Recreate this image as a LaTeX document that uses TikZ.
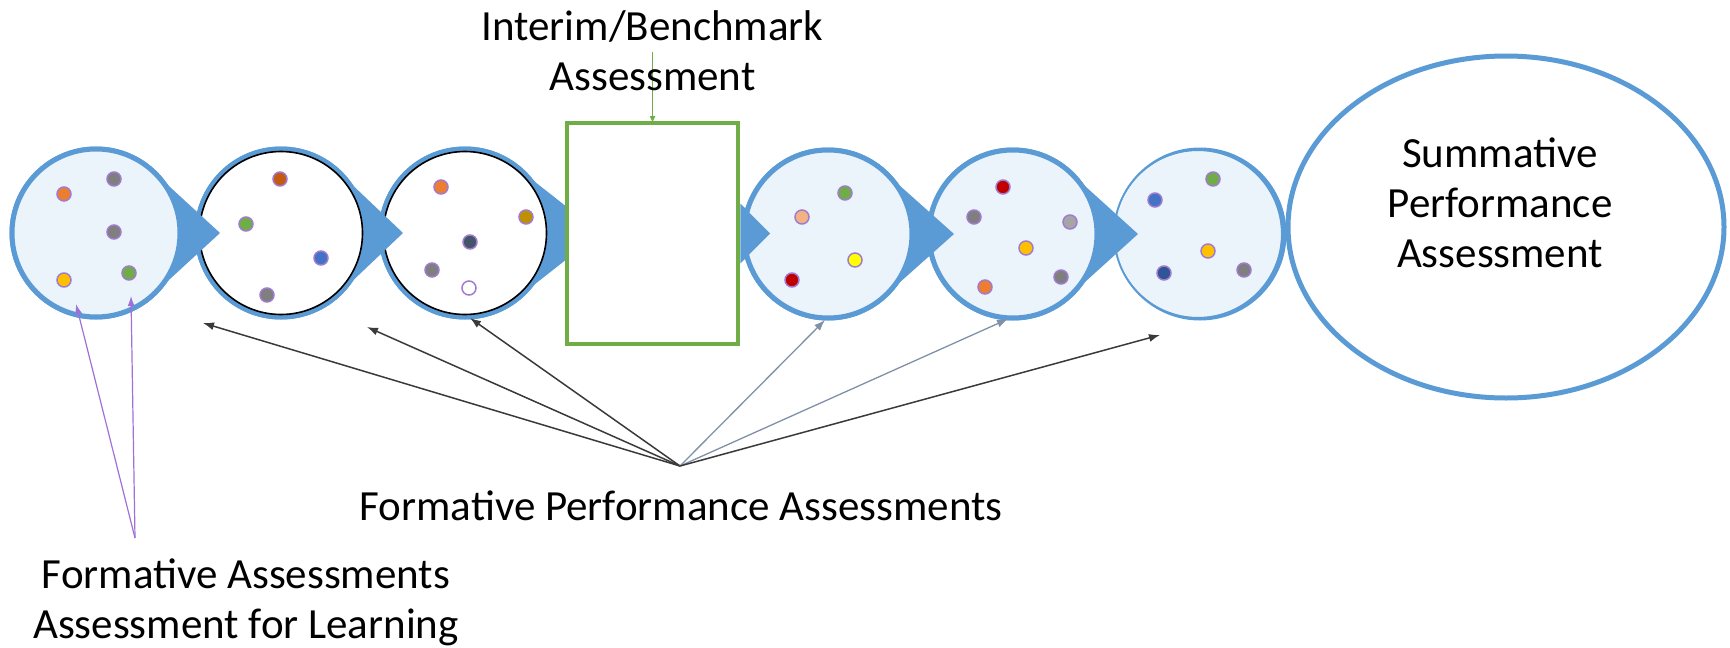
\documentclass[tikz,border=0pt]{standalone}
\usepackage{fontspec}
\setmainfont{Carlito}
\usetikzlibrary{calc,shapes.geometric,arrows.meta}
\definecolor{bblue}{HTML}{5B9BD5}
\definecolor{lfill}{HTML}{EBF3FB}
\definecolor{ggreen}{HTML}{70AD47}
\definecolor{dotline}{HTML}{A07CCF}
\definecolor{darkline}{HTML}{3A3A3A}
\definecolor{lightline}{HTML}{8090A8}
\definecolor{purp}{HTML}{A070D8}
\definecolor{cOrange}{HTML}{ED7D31}
\definecolor{cGray}{HTML}{7F7F7F}
\definecolor{cAmber}{HTML}{FFC000}
\definecolor{cGreen}{HTML}{70AD47}
\definecolor{cRust}{HTML}{C55A11}
\definecolor{cBlue}{HTML}{4472C4}
\definecolor{cGold}{HTML}{BF9000}
\definecolor{cSlate}{HTML}{44546A}
\definecolor{cPeach}{HTML}{F4B183}
\definecolor{cYellow}{HTML}{FFFF00}
\definecolor{cRed}{HTML}{C00000}
\definecolor{cLGray}{HTML}{A5A5A5}
\definecolor{cNavy}{HTML}{2F5597}
\tikzset{
  big/.style={font=\fontsize{43}{50}\selectfont, align=center, inner sep=0pt, anchor=base},
  ring/.style={circle, minimum size=168pt, inner sep=0pt, outer sep=0pt, draw=bblue, line width=5pt, fill=lfill},
  wring/.style={ring, fill=white},
  pt/.style={circle, minimum size=14pt, inner sep=0pt, draw=dotline, line width=1.5pt},
  tri/.style={fill=bblue},
  darr/.style={-{Latex[length=11pt,width=8pt]}, line width=1.5pt, draw=darkline},
  larr/.style={-{Latex[length=11pt,width=8pt]}, line width=1.3pt, draw=lightline},
  parr/.style={-{Latex[length=10pt,width=7pt]}, line width=1.2pt, draw=purp},
}
\begin{document}
\begin{tikzpicture}[x=1pt,y=-1pt]
\useasboundingbox (0,0) rectangle (1730,648);
% summative ellipse
\node[ellipse, draw=bblue, line width=5pt, minimum width=436pt, minimum height=342pt, inner sep=0pt] (sum) at (1506,227) {};
\node[big] (sumtxt) at (1500,267) {Summative\\Performance\\Assessment};
% circle 6 (outline thin on the left, thick on the right)
\node[ring, line width=1.5pt] (c6) at (1198,234) {};
\fill[bblue, even odd rule] ($(c6)+(2,0)$) circle[radius=86.5pt] (c6.center) circle[radius=83pt];
% circle 5
\node[ring] (c5) at (1013,234) {};
\fill[tri] ($(c5)+(59.4,-59.4)$) -- ($(c5)+(125,0)$) -- ($(c5)+(59.4,59.4)$) -- cycle;
\node[ring] (c5b) at (1013,234) {};
% circle 4
\node[ring] (c4) at (828,234) {};
\fill[tri] ($(c4)+(59.4,-59.4)$) -- ($(c4)+(126,0)$) -- ($(c4)+(59.4,59.4)$) -- cycle;
\node[ring] (c4b) at (828,234) {};
% circle 3, rectangle
\node[wring] (c3) at (465,233) {};
\fill[tri] ($(c3)+(59.4,-59.4)$) -- ($(c3)+(135,0)$) -- ($(c3)+(59.4,59.4)$) -- cycle;
\node[wring] (c3b) at (465,233) {};
\draw[black, line width=1.6pt] (c3b.center) circle[radius=81.5pt];
\node[draw=ggreen, line width=4.5pt, minimum width=171pt, minimum height=221pt, fill=white, inner sep=0pt, outer sep=0pt] (rect) at (652.5,233.5) {};
\fill[tri] ($(rect.east)+(2.3,-30)$) -- ($(rect.east)+(32,0)$) -- ($(rect.east)+(2.3,30)$) -- cycle;
% circle 2
\node[wring] (c2) at (281,233) {};
\fill[tri] ($(c2)+(59.4,-59.4)$) -- ($(c2)+(122,0)$) -- ($(c2)+(59.4,59.4)$) -- cycle;
\node[wring] (c2b) at (281,233) {};
\draw[black, line width=1.6pt] (c2b.center) circle[radius=81.5pt];
% circle 1
\node[ring] (c1) at (96,233) {};
\fill[tri] ($(c1)+(59.4,-59.4)$) -- ($(c1)+(124,0)$) -- ($(c1)+(59.4,59.4)$) -- cycle;
\node[ring] (c1b) at (96,233) {};
% dots circle 1
\node[pt, fill=cOrange] (d11) at (64,194) {};
\node[pt, fill=cGray] (d12) at (114,179) {};
\node[pt, fill=cGray] (d13) at (114,232) {};
\node[pt, fill=cAmber] (d14) at (64,280) {};
\node[pt, fill=cGreen] (d15) at (129,273) {};
% dots circle 2
\node[pt, fill=cRust] (d21) at (280,179) {};
\node[pt, fill=cGreen] (d22) at (246,224) {};
\node[pt, fill=cBlue] (d23) at (321,258) {};
\node[pt, fill=cGray] (d24) at (267,295) {};
% dots circle 3
\node[pt, fill=cOrange] (d31) at (441,187) {};
\node[pt, fill=cGold] (d32) at (526,217) {};
\node[pt, fill=cSlate] (d33) at (470,242) {};
\node[pt, fill=cGray] (d34) at (432,270) {};
\node[pt, fill=white] (d35) at (469,288) {};
% dots circle 4
\node[pt, fill=cGreen] (d41) at (845,193) {};
\node[pt, fill=cPeach] (d42) at (802,217) {};
\node[pt, fill=cYellow] (d43) at (855,260) {};
\node[pt, fill=cRed] (d44) at (792,280) {};
% dots circle 5
\node[pt, fill=cRed] (d51) at (1003,187) {};
\node[pt, fill=cGray] (d52) at (974,217) {};
\node[pt, fill=cLGray] (d53) at (1070,222) {};
\node[pt, fill=cAmber] (d54) at (1026,248) {};
\node[pt, fill=cGray] (d55) at (1061,277) {};
\node[pt, fill=cOrange] (d56) at (985,287) {};
% dots circle 6
\node[pt, fill=cBlue] (d61) at (1155,200) {};
\node[pt, fill=cGreen] (d62) at (1213,179) {};
\node[pt, fill=cAmber] (d63) at (1208,251) {};
\node[pt, fill=cNavy] (d64) at (1164,273) {};
\node[pt, fill=cGray] (d65) at (1244,270) {};
% interim label and arrow
\coordinate (iastart) at (652.5,52);
\draw[ggreen, line width=1pt, -{Latex[length=7pt,width=6pt]}] (iastart) -- (rect.north);
\node[big] (interim) at (652.5,90) {Interim/Benchmark\\Assessment};
% formative performance assessments
\coordinate (fpa) at (680,466);
\coordinate (t1) at (203,323);
\coordinate (t2) at (367,327);
\coordinate (t3) at (470,318);
\coordinate (t4) at (825,320);
\coordinate (t5) at (1008,319);
\coordinate (t6) at (1160,335);
\draw[darr] (fpa) -- (t1);
\draw[darr] (fpa) -- (t2);
\draw[darr] (fpa) -- (t3);
\draw[larr] (fpa) -- (t4);
\draw[larr] (fpa) -- (t5);
\draw[darr] (fpa) -- (t6);
\node[big] (fpatxt) at (681,520) {Formative Performance Assessments};
% formative assessments
\coordinate (fa) at (135,538);
\coordinate (p1) at (76,304);
\coordinate (p2) at (131,296);
\draw[parr] (fa) -- (p1);
\draw[parr] (fa) -- (p2);
\node[big] (fatxt) at (246,638) {Formative Assessments\\Assessment for Learning};
\end{tikzpicture}
\end{document}
